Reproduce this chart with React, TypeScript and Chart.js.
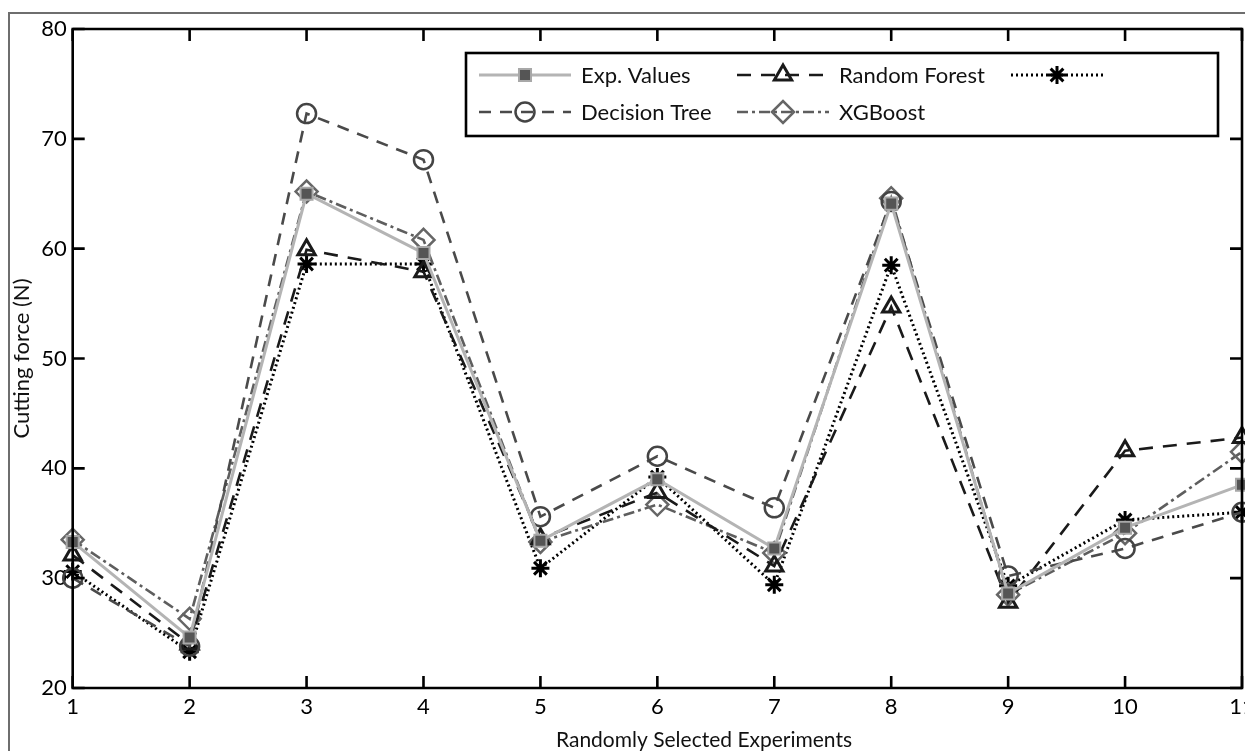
import React, { useEffect, useRef } from 'react';
import { Chart, registerables } from 'chart.js';
import { drawPoint } from 'chart.js/helpers';

Chart.register(...registerables);

// ---------- data ----------
const experiments = ['1', '2', '3', '4', '5', '6', '7', '8', '9', '10', '11'];
const expValues = [33.3, 24.6, 65.0, 59.6, 33.4, 39.0, 32.7, 64.1, 28.6, 34.6, 38.5];
const decisionTree = [30.0, 23.8, 72.3, 68.1, 35.6, 41.1, 36.4, 64.3, 30.2, 32.7, 36.0];
const randomForest = [32.1, 24.0, 59.9, 57.9, 33.6, 37.8, 31.1, 54.7, 27.8, 41.6, 42.8];
const unnamedModel = [30.6, 23.3, 58.6, 58.6, 30.9, 39.2, 29.4, 58.5, 29.3, 35.3, 36.0];
const xgboost = [33.5, 26.3, 65.2, 60.8, 33.3, 36.7, 32.3, 64.6, 28.5, 34.1, 41.5];
const yTicks = [20, 30, 40, 50, 60, 70, 80];
const seriesNames = ['Exp. Values', 'Decision Tree', 'Random Forest', 'XGBoost', ''];
const xTitle = 'Randomly Selected Experiments';
const yTitle = 'Cutting force (N)';

const FONT = 'Lato, "Liberation Sans", sans-serif';

// ---------- styles ----------
const styles = [
  { color: '#b4b4b4', width: 3, dash: [] as number[], point: 'rect', pr: 8.5, pColor: '#a8a8a8', pFill: '#555555', pw: 2 },
  { color: '#4a4a4a', width: 2.6, dash: [12, 9], point: 'circle', pr: 9.5, pColor: '#444444', pFill: 'rgba(0,0,0,0)', pw: 2.5 },
  { color: '#1a1a1a', width: 2.6, dash: [14, 10], point: 'triangle', pr: 10, pColor: '#1a1a1a', pFill: 'rgba(0,0,0,0)', pw: 3 },
  { color: '#5e5e5e', width: 2.6, dash: [11, 4, 3, 4], point: 'rectRot', pr: 11, pColor: '#666666', pFill: 'rgba(0,0,0,0)', pw: 2.5 },
  { color: '#000000', width: 3, dash: [2, 3], point: 'star', pr: 9, pColor: '#000000', pFill: 'rgba(0,0,0,0)', pw: 3 },
];
const seriesData = [expValues, decisionTree, randomForest, xgboost, unnamedModel];

// legend entries: [style index, row, column]
const legendLayout = [
  { s: 0, row: 0, col: 0 },
  { s: 2, row: 0, col: 1 },
  { s: 4, row: 0, col: 2 },
  { s: 1, row: 1, col: 0 },
  { s: 3, row: 1, col: 1 },
];

const CANVAS_W = 1275;
const VIEW_W = 1245;

const framePlugin = {
  id: 'framePlugin',
  beforeDraw(chart: any) {
    const { ctx, width, height } = chart;
    ctx.save();
    ctx.fillStyle = '#ffffff';
    ctx.fillRect(0, 0, width, height);
    ctx.strokeStyle = '#6e6e6e';
    ctx.lineWidth = 2;
    ctx.beginPath();
    ctx.moveTo(9, height + 2);
    ctx.lineTo(9, 13);
    ctx.lineTo(width + 2, 13);
    ctx.stroke();
    ctx.restore();
  },
  afterDraw(chart: any) {
    const { ctx, chartArea } = chart;
    const { left, right, top, bottom } = chartArea;
    const xs = chart.scales.x;
    const ys = chart.scales.y;
    ctx.save();
    ctx.strokeStyle = '#000';
    ctx.lineWidth = 2.6;
    ctx.setLineDash([]);
    ctx.beginPath();
    ctx.rect(left, top, right - left, bottom - top);
    ctx.stroke();
    const tl = 12;
    ctx.beginPath();
    experiments.forEach((_, i) => {
      const px = xs.getPixelForValue(i);
      ctx.moveTo(px, bottom);
      ctx.lineTo(px, bottom - tl);
      ctx.moveTo(px, top);
      ctx.lineTo(px, top + tl);
    });
    yTicks.forEach((v) => {
      const py = ys.getPixelForValue(v);
      ctx.moveTo(left, py);
      ctx.lineTo(left + tl, py);
      ctx.moveTo(right, py);
      ctx.lineTo(right - tl, py);
    });
    ctx.stroke();

    // x axis title
    ctx.fillStyle = '#111';
    ctx.font = '21px ' + FONT;
    ctx.textAlign = 'center';
    ctx.textBaseline = 'middle';
    ctx.fillText(xTitle, 704, 740);

    // legend
    const bx = 466, by = 53, bw = 752, bh = 83;
    ctx.fillStyle = '#fff';
    ctx.fillRect(bx, by, bw, bh);
    ctx.lineWidth = 2.6;
    ctx.strokeStyle = '#000';
    ctx.strokeRect(bx, by, bw, bh);
    const colX = [479, 737, 1011];
    const rowY = [75, 112];
    ctx.font = '22px ' + FONT;
    ctx.textAlign = 'left';
    ctx.textBaseline = 'middle';
    legendLayout.forEach((e) => {
      const st = styles[e.s];
      const x0 = colX[e.col];
      const y0 = rowY[e.row];
      const len = 92;
      ctx.save();
      ctx.strokeStyle = st.color;
      ctx.lineWidth = st.width;
      ctx.setLineDash(st.dash);
      ctx.beginPath();
      ctx.moveTo(x0, y0);
      ctx.lineTo(x0 + len, y0);
      ctx.stroke();
      ctx.setLineDash([]);
      ctx.strokeStyle = st.pColor;
      ctx.fillStyle = st.pFill;
      ctx.lineWidth = st.pw;
      drawPoint(ctx, { pointStyle: st.point as any, rotation: 0, radius: st.pr, borderWidth: st.pw }, x0 + len / 2, y0);
      ctx.restore();
      ctx.fillStyle = '#111';
      ctx.fillText(seriesNames[e.s], x0 + 102, y0 + 1);
    });
    ctx.restore();
  },
};

export default function App() {
  const ref = useRef<HTMLCanvasElement | null>(null);
  useEffect(() => {
    if (!ref.current) return;
    const chart = new Chart(ref.current, {
      type: 'line',
      data: {
        labels: experiments,
        datasets: seriesData.map((d, i) => {
          const st = styles[i];
          return {
            label: seriesNames[i],
            data: d,
            borderColor: st.color,
            borderWidth: st.width,
            borderDash: st.dash,
            pointStyle: st.point as any,
            pointRadius: st.pr,
            pointBorderColor: st.pColor,
            pointBackgroundColor: st.pFill,
            pointBorderWidth: st.pw,
            tension: 0,
            fill: false,
            clip: false as any,
          };
        }),
      },
      options: {
        animation: false,
        responsive: false,
        maintainAspectRatio: false,
        layout: { padding: { top: 29, right: CANVAS_W - 1242, left: 0, bottom: 0 } },
        plugins: { legend: { display: false }, tooltip: { enabled: false } },
        scales: {
          x: {
            type: 'category',
            offset: false,
            grid: { display: false, drawTicks: false },
            border: { display: false },
            ticks: { color: '#000', font: { family: FONT, size: 22 }, padding: 6, maxRotation: 0, autoSkip: false },
            title: { display: false, text: xTitle },
            afterFit(s: any) {
              s.height = 63;
              s.paddingLeft = 0;
              s.paddingRight = 0;
            },
          },
          y: {
            min: 20,
            max: 80,
            grid: { display: false, drawTicks: false },
            border: { display: false },
            ticks: { stepSize: 10, color: '#000', font: { family: FONT, size: 22 }, padding: 6 },
            title: {
              display: true,
              text: yTitle,
              color: '#111',
              font: { family: FONT, size: 22, lineHeight: 2.0 },
              padding: 0,
            },
            afterFit(s: any) {
              s.width = 72.7;
              s.paddingTop = 0;
              s.paddingBottom = 0;
            },
          },
        },
      },
      plugins: [framePlugin],
    });
    return () => chart.destroy();
  }, []);
  return (
    <div style={{ position: 'fixed', left: 0, top: 0, width: VIEW_W, height: 751, overflow: 'hidden' }}>
      <canvas ref={ref} width={CANVAS_W} height={751} style={{ display: 'block' }} />
    </div>
  );
}
